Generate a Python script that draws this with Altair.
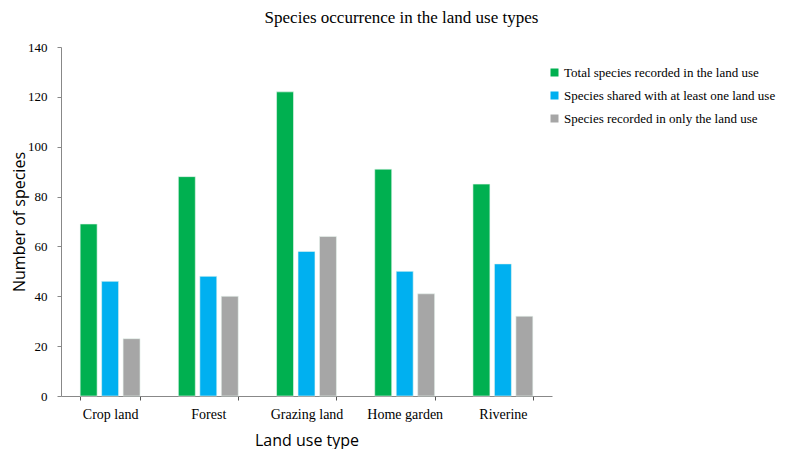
import altair as alt
import pandas as pd

categories = ["Crop land", "Forest", "Grazing land", "Home garden", "Riverine"]
series = [
    "Total species recorded in the land use",
    "Species shared with at least one land use",
    "Species recorded in only the land use",
]
total = [69, 88, 122, 91, 85]
shared = [46, 48, 58, 50, 53]
only = [23, 40, 64, 41, 32]
colors = ["#00B050", "#00B0F0", "#A6A6A6"]

rows = []
for i, c in enumerate(categories):
    for s, vals in zip(series, [total, shared, only]):
        rows.append({"Land use": c, "Series": s, "Value": vals[i]})
df = pd.DataFrame(rows)

serif = "Liberation Serif"
sans = "Open Sans"

chart = alt.Chart(df).mark_bar(stroke="#e8f5ee", strokeWidth=0.6).encode(
    x=alt.X("Land use:N", sort=categories,
            scale=alt.Scale(paddingInner=0.39, paddingOuter=0.195),
            axis=alt.Axis(title="Land use type", labelAngle=0, tickBand="extent",
                          labelFont=serif, labelFontSize=14, labelColor="#000",
                          labelPadding=7, tickSize=4, tickColor="#555",
                          domainColor="#888", titleFont=sans, titleFontSize=16,
                          titleFontWeight="normal", titleColor="#000", titlePadding=11)),
    xOffset=alt.XOffset("Series:N", sort=series, scale=alt.Scale(paddingInner=0.21)),
    y=alt.Y("Value:Q", scale=alt.Scale(domain=[0, 140], nice=False),
            axis=alt.Axis(title="Number of species", values=list(range(0, 141, 20)),
                          grid=False, labelFont=serif, labelFontSize=13, labelColor="#000",
                          labelPadding=10, tickSize=4, tickColor="#888", domainColor="#888",
                          titleFont=sans, titleFontSize=16, titleFontWeight="normal",
                          titleColor="#000", titlePadding=0)),
    color=alt.Color("Series:N", sort=series,
                    scale=alt.Scale(domain=series, range=colors),
                    legend=alt.Legend(title=None, orient="none", legendX=487, legendY=19,
                                      symbolType="square", symbolSize=64,
                                      symbolStrokeWidth=0, labelFont=serif,
                                      labelFontSize=13, labelColor="#000", labelLimit=0,
                                      labelOffset=3, rowPadding=9, padding=0)),
).properties(
    width=491, height=349,
    title=alt.TitleParams("Species occurrence in the land use types", font=serif,
                          fontSize=17, fontWeight="normal", color="#000",
                          anchor="middle", frame="group", dx=95, offset=14),
    autosize=alt.AutoSizeParams(type="none"),
    padding={"left": 53, "top": 39, "right": 229, "bottom": 53},
).configure_view(stroke=None)

chart.save("out.html", embed_options={"renderer": "svg", "actions": False})
